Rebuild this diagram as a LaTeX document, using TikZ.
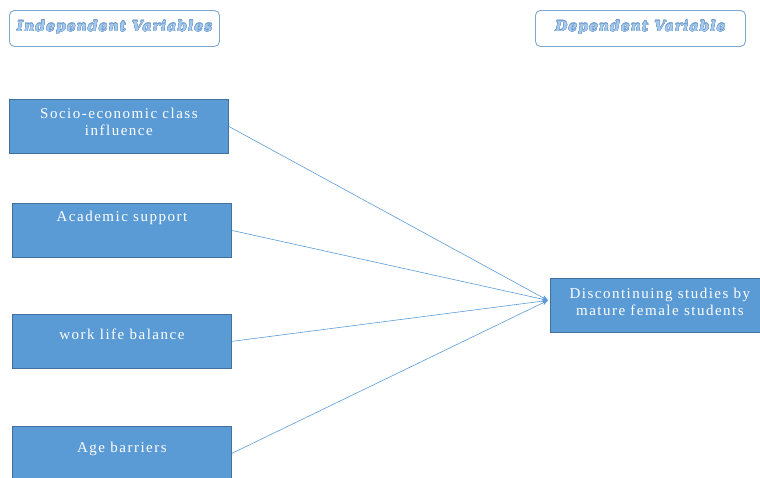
\documentclass[tikz,border=0pt]{standalone}
\usepackage{fontspec}
\usepackage{contour}
\setmainfont{Liberation Serif}
\newfontfamily\boxfont[LetterSpace=10]{Liberation Serif}
\newfontfamily\headfont[LetterSpace=7]{DejaVu Serif}
\usetikzlibrary{arrows.meta}
\definecolor{boxfill}{HTML}{5B9BD5}
\definecolor{boxedge}{HTML}{41719C}
\definecolor{headtext}{HTML}{A7CAEC}
\definecolor{headedge}{HTML}{7FA6CF}
\definecolor{headline}{HTML}{6D9BCD}
\contourlength{0.25pt}
\newcommand{\boxtext}[2]{\parbox[c][54pt][t]{219pt}{\centering\vspace{#1}#2}}
\newcommand{\headtxt}[1]{\contour{headline}{#1}}
\begin{document}
\begin{tikzpicture}[x=1pt,y=-1pt,
  varbox/.style={draw=boxedge, line width=0.8pt, fill=boxfill, inner sep=0pt,
    text=white, font=\boxfont\fontsize{15}{17}\selectfont, anchor=north west},
  headbox/.style={draw=headedge, line width=0.9pt, rounded corners=5pt, fill=white,
    minimum width=210pt, minimum height=36pt, anchor=north west},
  headlabel/.style={text=headtext, font=\headfont\bfseries\itshape\fontsize{14}{16}\selectfont},
  link/.style={draw=boxfill, line width=0.6pt, -{Stealth[length=6pt,width=5pt]}}]
\useasboundingbox (0,0) rectangle (760,477);
% column headings
\node[headbox] (hind) at (9,10) {};
\node[headlabel] (tind) at ([yshift=1pt]hind.center) {\headtxt{Independent Variables}};
\node[headbox] (hdep) at (535,10) {};
\node[headlabel] (tdep) at ([yshift=1pt]hdep.center) {\headtxt{Dependent Variable}};
% independent variables
\node[varbox] (v1) at (9,99) {\boxtext{9pt}{Socio-economic class\\influence}};
\node[varbox] (v2) at (12,203) {\boxtext{8pt}{Academic support}};
\node[varbox] (v3) at (12,314) {\boxtext{15pt}{work life balance}};
\node[varbox] (v4) at (12,426) {\boxtext{16pt}{Age barriers}};
% dependent variable
\node[varbox] (dv) at (550,278) {\boxtext{10pt}{Discontinuing studies by\\mature female students}};
\coordinate (hub) at ([xshift=-2pt,yshift=5pt]dv.west);
% connectors
\foreach \v in {v1,v2,v3,v4} \draw[link] (\v.east) -- (hub);
\end{tikzpicture}
\end{document}
